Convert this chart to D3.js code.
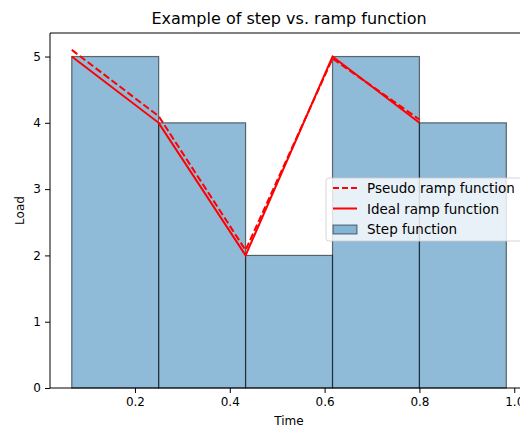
<!DOCTYPE html>
<html>
<head>
<meta charset="utf-8">
<script src="https://cdn.jsdelivr.net/npm/d3@7"></script>
<style>
  html, body { margin: 0; padding: 0; background: #fff; }
  svg { display: block; font-family: "DejaVu Sans", sans-serif; }
</style>
</head>
<body>
<svg id="chart" width="520" height="428"></svg>
<script>
// Step intervals (bin edges) and the load held over each interval
const stepEdges = [0.0667, 0.25, 0.4333, 0.6167, 0.8, 0.9833];
const stepLoad = [5, 4, 2, 5, 4];

// Ramp breakpoints
const rampTime = [0.0667, 0.25, 0.4333, 0.6167, 0.8];
const idealLoad = [5, 4, 2, 5, 4];
const pseudoLoad = [5.1, 4.1, 2.08, 4.97, 4.05];

const xTicks = [0.2, 0.4, 0.6, 0.8, 1.0];
const yTicks = [0, 1, 2, 3, 4, 5];

const svg = d3.select("#chart");
const margin = { left: 50, top: 33, right: 528, bottom: 388 };

const x = d3.scaleLinear().domain([0.0208, 1.029]).range([margin.left, margin.right]);
const y = d3.scaleLinear().domain([0, 5.355]).range([margin.bottom, margin.top]);

// Step function bars
const bars = stepLoad.map((v, i) => ({ x0: stepEdges[i], x1: stepEdges[i + 1], v }));
svg.append("g").selectAll("rect").data(bars).join("rect")
  .attr("x", d => x(d.x0))
  .attr("y", d => y(d.v))
  .attr("width", d => x(d.x1) - x(d.x0))
  .attr("height", d => y(0) - y(d.v))
  .attr("fill", "#1f77b4")
  .attr("fill-opacity", 0.5)
  .attr("stroke", "#000")
  .attr("stroke-opacity", 0.55)
  .attr("stroke-width", 1.2);

const line = d3.line().x(d => x(d[0])).y(d => y(d[1]));

// Pseudo ramp (dashed)
svg.append("path")
  .datum(rampTime.map((t, i) => [t, pseudoLoad[i]]))
  .attr("d", line)
  .attr("fill", "none")
  .attr("stroke", "red")
  .attr("stroke-width", 2)
  .attr("stroke-dasharray", "7,3");

// Ideal ramp (solid)
svg.append("path")
  .datum(rampTime.map((t, i) => [t, idealLoad[i]]))
  .attr("d", line)
  .attr("fill", "none")
  .attr("stroke", "red")
  .attr("stroke-width", 2);

// Axes
const xAxis = d3.axisBottom(x).tickValues(xTicks).tickFormat(d3.format(".1f")).tickSize(5).tickPadding(4);
const yAxis = d3.axisLeft(y).tickValues(yTicks).tickFormat(d3.format("d")).tickSize(5).tickPadding(4);

const gx = svg.append("g").attr("transform", `translate(0,${margin.bottom})`).call(xAxis);
const gy = svg.append("g").attr("transform", `translate(${margin.left},0)`).call(yAxis);
[gx, gy].forEach(g => {
  g.select(".domain").remove();
  g.selectAll("text").attr("font-size", 12).attr("fill", "#000").attr("font-family", "DejaVu Sans");
  g.selectAll("line").attr("stroke", "#000");
});

// Spines
const spine = svg.append("g").attr("fill", "none").attr("stroke", "#000").attr("stroke-width", 1);
spine.append("line").attr("x1", margin.left).attr("x2", margin.left).attr("y1", margin.top).attr("y2", margin.bottom);
spine.append("line").attr("x1", margin.left).attr("x2", 530).attr("y1", margin.bottom).attr("y2", margin.bottom);
spine.append("line").attr("x1", margin.left).attr("x2", 530).attr("y1", margin.top).attr("y2", margin.top);
spine.append("line").attr("x1", margin.right).attr("x2", margin.right).attr("y1", margin.top).attr("y2", margin.bottom);

// Title and axis labels
svg.append("text").attr("x", (margin.left + margin.right) / 2).attr("y", 24)
  .attr("text-anchor", "middle").attr("font-size", 16).attr("fill", "#000")
  .text("Example of step vs. ramp function");
svg.append("text").attr("x", (margin.left + margin.right) / 2).attr("y", 425)
  .attr("text-anchor", "middle").attr("font-size", 12).attr("fill", "#000")
  .text("Time");
svg.append("text").attr("transform", `translate(24,${(margin.top + margin.bottom) / 2}) rotate(-90)`)
  .attr("text-anchor", "middle").attr("font-size", 12).attr("fill", "#000")
  .text("Load");

// Legend (center right)
const lg = svg.append("g").attr("transform", "translate(326,178)");
lg.append("rect").attr("x", 0).attr("y", 0).attr("width", 198).attr("height", 63)
  .attr("rx", 3).attr("fill", "#fff").attr("fill-opacity", 0.8)
  .attr("stroke", "#ccc").attr("stroke-opacity", 0.8);
const entries = [
  { label: "Pseudo ramp function", type: "dash" },
  { label: "Ideal ramp function", type: "line" },
  { label: "Step function", type: "patch" }
];
entries.forEach((e, i) => {
  const cy = 10 + i * 20.5;
  if (e.type === "patch") {
    lg.append("rect").attr("x", 7).attr("y", cy - 4).attr("width", 24).attr("height", 9)
      .attr("fill", "#1f77b4").attr("fill-opacity", 0.5)
      .attr("stroke", "#000").attr("stroke-opacity", 0.55);
  } else {
    lg.append("line").attr("x1", 7).attr("x2", 31).attr("y1", cy).attr("y2", cy)
      .attr("stroke", "red").attr("stroke-width", 2)
      .attr("stroke-dasharray", e.type === "dash" ? "6,3" : null);
  }
  lg.append("text").attr("x", 41).attr("y", cy + 5).attr("font-size", 13.5).attr("fill", "#000")
    .text(e.label);
});
</script>
</body>
</html>
